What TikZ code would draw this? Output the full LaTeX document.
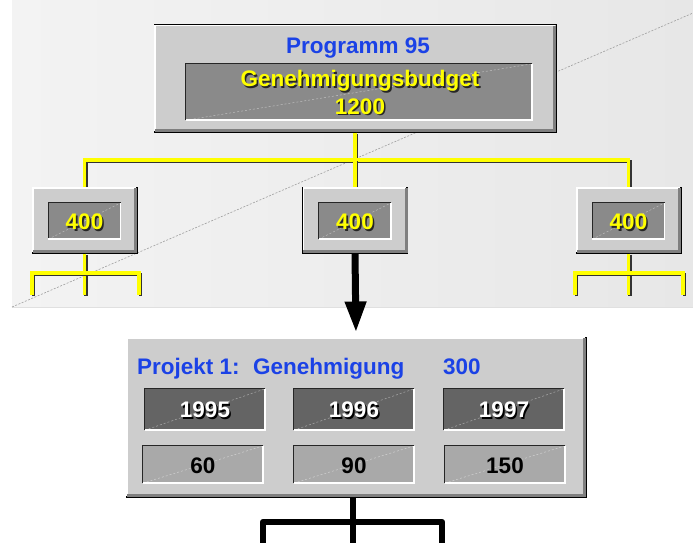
\documentclass[tikz,border=0pt]{standalone}
\usepackage{fontspec}
\setmainfont{Liberation Sans}
\usetikzlibrary{arrows.meta}

\definecolor{panelA}{HTML}{F3F3F3}
\definecolor{panelB}{HTML}{E7E7E7}
\definecolor{boxface}{HTML}{CDCDCD}
\definecolor{boxshade}{HTML}{7F7F7F}
\definecolor{wellmid}{HTML}{8A8A8A}
\definecolor{welldark}{HTML}{646464}
\definecolor{welllight}{HTML}{A9A9A9}
\definecolor{titleblue}{HTML}{1B42E6}
\definecolor{budgetyellow}{HTML}{FFFF00}

\tikzset{
  plate/.style={draw=black, line width=1pt, fill=boxface, inner sep=0pt},
  well/.style={inner sep=0pt},
  txt/.style={inner sep=0pt, anchor=base, font=\bfseries\fontsize{22.5}{27}\selectfont},
  diagfaint/.style={draw=white, opacity=0.45, line width=0.5pt, dash pattern=on 2pt off 2pt},
  yline/.style={draw=budgetyellow, line width=3.2pt,
    preaction={draw=black!80, line width=3.2pt, transform canvas={xshift=1.4pt, yshift=-1.4pt}}},
  kline/.style={draw=black, line width=6.5pt, line join=round},
}

% raised 3D rim inside a plate
\newcommand\raisedrim[1]{%
  \draw[white, line width=1.5pt]
    ([shift={(1.25,-2)}]#1.south west) -- ([shift={(1.25,1.25)}]#1.north west)
    -- ([shift={(-2,1.25)}]#1.north east);
  \draw[boxshade, line width=3pt]
    ([shift={(-2,1.25)}]#1.north east) -- ([shift={(-2,-2)}]#1.south east)
    -- ([shift={(1.25,-2)}]#1.south west);
}
% sunken rim round a well
\newcommand\sunkenrim[1]{%
  \draw[diagfaint] (#1.south west) -- (#1.north east);
  \draw[black!85, line width=1pt] (#1.south west) -- (#1.north west) -- (#1.north east);
  \draw[white, line width=1.5pt] (#1.north east) -- (#1.south east) -- (#1.south west);
}
% one line of text over its own drop shadow: shadow colour, text
\newcommand\dropshade[2]{\rlap{\kern1.6pt\lower1.6pt\hbox{\color{#1}#2}}#2}

\begin{document}
\begin{tikzpicture}[x=1pt, y=-1pt]
\useasboundingbox (0,0) rectangle (693,543);
\clip (0,0) rectangle (693,543);

% backdrop panel of the programme level
\shade[left color=panelA, right color=panelB] (12,0) rectangle (693,307);
\draw[black!12, line width=0.8pt] (12,307) -- (693,307);
\draw[gray!75, line width=0.6pt, dash pattern=on 2pt off 1.5pt] (12,307) -- (693,13);

% programme box
\node[plate, minimum width=402pt, minimum height=107pt] (prog) at (355,78.5) {};
\raisedrim{prog}
\node[well, fill=wellmid, minimum width=346pt, minimum height=56pt] (budget) at (359,92) {};
\sunkenrim{budget}
\node[txt, text=titleblue] (progTitle) at (358,54) {Programm 95};
\node[txt, text=budgetyellow] (budgetTxt) at (360,86.5)
  {\dropshade{black!85}{Genehmigungsbudget}};
\node[txt, text=budgetyellow] (budgetVal) at (360,114)
  {\dropshade{black!85}{1200}};

% yellow distribution bus
\coordinate (busTop) at (355,160);
\draw[yline] (prog.south) -- (busTop);
\draw[yline] (84.5,187) |- (busTop) -| (628.5,187);
\draw[yline] (busTop) -- (355,187);

% project boxes of the programme
\foreach \nm/\x in {mL/84.5, mM/355, mR/628.5} {
  \node[plate, minimum width=105pt, minimum height=66pt] (\nm) at (\x,220) {};
  \raisedrim{\nm}
  \node[well, fill=wellmid, minimum width=72pt, minimum height=36pt] (\nm-w) at (\x,221) {};
  \sunkenrim{\nm-w}
  \node[txt, text=budgetyellow] (\nm-t) at (\x,229.5) {\dropshade{black!85}{400}};
}

% sub-buses under the outer project boxes
\coordinate (lA) at (32,295);  \coordinate (lB) at (84.5,295);
\coordinate (lC) at (139,295); \coordinate (lBus) at (84.5,273);
\draw[yline] (mL.south) -- (lB);
\draw[yline] (lA) |- (lBus) -| (lC);
\coordinate (rA) at (575,295);  \coordinate (rB) at (628.5,295);
\coordinate (rC) at (683,295);  \coordinate (rBus) at (628.5,273);
\draw[yline] (mR.south) -- (rB);
\draw[yline] (rA) |- (rBus) -| (rC);

% project detail box
\node[plate, minimum width=460pt, minimum height=160pt] (proj) at (356,417) {};
\raisedrim{proj}
\node[txt, text=titleblue, anchor=base west] (pjName) at (137,374) {Projekt 1:};
\node[txt, text=titleblue, anchor=base west] (pjLabel) at (253,374) {Genehmigung};
\node[txt, text=titleblue, anchor=base west] (pjValue) at (443,374) {300};

\foreach \nm/\x/\yr in {yA/205/1995, yB/354/1996, yC/504/1997} {
  \node[well, fill=welldark, minimum width=120pt, minimum height=41pt] (\nm) at (\x,409.5) {};
  \sunkenrim{\nm}
  \node[txt, text=white] (\nm-t) at (\x,417.5) {\dropshade{black}{\yr}};
}
\foreach \nm/\x/\v in {vA/203/60, vB/354/90, vC/505/150} {
  \node[well, fill=welllight, minimum width=120pt, minimum height=37pt] (\nm) at (\x,464.5) {};
  \sunkenrim{\nm}
  \node[txt, text=black] (\nm-t) at (\x,473) {\v};
}

% arrow from the middle project into the detail box
\draw[line width=7pt, -{Triangle[length=31pt, width=20pt]}, shorten >=4pt] (mM.south) -- (proj.north);

% black bus below the detail box
\coordinate (dBus) at (353,522);
\coordinate (dA) at (263,546); \coordinate (dB) at (353,546); \coordinate (dC) at (442,546);
\draw[kline] ([xshift=-3pt]proj.south) -- (dB);
\draw[kline] (dA) |- (dBus) -| (dC);
\end{tikzpicture}
\end{document}
